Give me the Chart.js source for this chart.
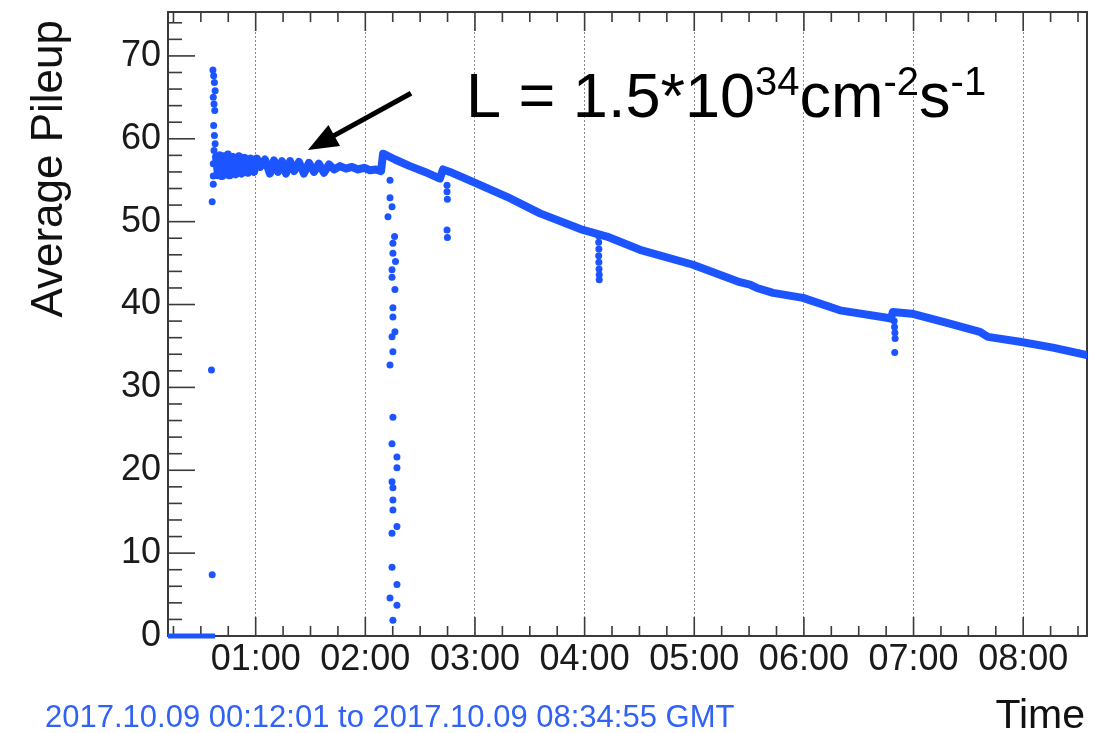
<!DOCTYPE html>
<html>
<head>
<meta charset="utf-8">
<script src="https://cdn.jsdelivr.net/npm/chart.js@4.4.0/dist/chart.umd.min.js"></script>
<style>
  html, body { margin: 0; padding: 0; background: #fff; }
</style>
</head>
<body>
<canvas id="pileup" width="1105" height="733"></canvas>
<script>
// Times are minutes after 00:00 GMT on 2017.10.09
const rangeStart = 12 + 1 / 60;      // 00:12:01
const rangeEnd = 8 * 60 + 34 + 55 / 60; // 08:34:55

// Beam not yet colliding
const zeroTimes = [12.0, 37.8];
const zeroValues = [0, 0];

// Main pileup band
const trendTimes = [38.3, 39.4, 40.5, 41.6, 42.7, 43.7, 44.8, 45.9, 47.6, 49.2, 50.9, 52.5, 54.1, 55.8, 57.4, 59.1, 60.7, 62.4,
    65.1, 67.8, 70.0, 72.2, 74.4, 76.6, 78.8, 81.0, 83.7, 86.4, 89.2, 91.9, 94.6, 97.4, 100.1, 102.9, 106.1, 109.4, 112.7,
    116.0, 119.3, 122.5, 125.8, 128.6, 129.7, 136.2, 144.4, 152.6, 160.8, 162.5, 166.3, 178.9, 197.5, 215.6, 239.1, 252.2,
    270.3, 299.3, 325.0, 330.5, 334.3, 343.1, 359.5, 379.7, 405.4, 407.6, 408.7, 419.1, 438.3, 456.3, 460.7, 478.2, 496.3, 514.9];
const trendValues = [57.8, 55.6, 58.0, 55.5, 57.9, 55.7, 58.1, 55.6, 57.8, 55.7, 57.9, 55.8, 57.7, 55.9, 57.6, 56.0, 57.6, 56.6,
    57.5, 55.8, 57.4, 56.0, 57.3, 55.8, 57.3, 56.1, 57.2, 55.8, 57.1, 56.0, 57.0, 55.9, 56.9, 56.3, 56.7, 56.4, 56.6,
    56.3, 56.5, 56.2, 56.3, 56.1, 58.2, 57.5, 56.7, 56.0, 55.2, 56.3, 56.0, 54.8, 53.0, 51.0, 49.0, 48.2,
    46.6, 44.8, 42.7, 42.4, 42.0, 41.4, 40.8, 39.3, 38.4, 38.3, 39.1, 38.9, 37.8, 36.7, 36.1, 35.5, 34.8, 33.9];

// Spike when collisions start
const spikeTimes = [36.6, 37.0, 37.4, 37.8, 36.8, 37.2, 37.6, 37.0, 37.4, 37.8, 37.2, 36.8, 36.8, 36.8, 36.2, 35.8, 36.2];
const spikeValues = [68.3, 67.6, 66.8, 65.8, 65.0, 64.2, 63.4, 61.6, 60.4, 59.4, 58.6, 57.0, 55.5, 54.5, 52.4, 32.1, 7.4];

// Dips (02:13, 02:44, 04:07, 06:49)
const dipTimes = [133.5, 133.5, 134.6, 132.4, 136.0, 135.1, 135.1, 136.5, 134.6, 134.6, 136.2, 135.1, 135.1, 136.2, 134.6, 135.1,
    133.5, 135.1, 134.6, 137.3, 137.3, 134.6, 135.1, 135.1, 135.1, 137.3, 134.6, 134.6, 137.3, 133.5, 137.3, 135.1,
    164.7, 164.7, 164.9, 164.7, 164.9,
    247.6, 247.7, 247.8, 247.7, 247.8, 247.9, 248.0, 248.0,
    409.4, 409.6, 409.8, 409.9, 409.7];
const dipValues = [55.0, 52.9, 51.8, 50.6, 48.2, 47.4, 46.2, 45.2, 44.2, 43.3, 41.8, 39.6, 38.5, 36.7, 36.1, 34.3,
    32.7, 26.4, 23.2, 21.6, 20.3, 18.6, 17.9, 16.4, 15.2, 13.2, 12.4, 8.3, 6.2, 4.6, 3.7, 1.9,
    54.4, 53.6, 52.7, 49.0, 48.1,
    48.3, 47.5, 46.7, 45.9, 45.1, 44.3, 43.6, 43.0,
    38.0, 37.3, 36.6, 35.9, 34.2];

// Axis ticks
const xTickLabels = ["01:00", "02:00", "03:00", "04:00", "05:00", "06:00", "07:00", "08:00"];
const yTickLabels = [0, 10, 20, 30, 40, 50, 60, 70];
const yMax = 75.3;

const blue = "#1c55ff";
const xy = (ts, vs) => ts.map((t, i) => ({ x: t, y: vs[i] }));

Chart.defaults.font.family = "'Liberation Sans', Arial, sans-serif";
Chart.defaults.color = "#1a1a1a";

function line(ctx, x1, y1, x2, y2) {
    ctx.beginPath();
    ctx.moveTo(x1, y1);
    ctx.lineTo(x2, y2);
    ctx.stroke();
}

// ROOT style frame with inward ticks
const rootFrame = {
    id: "rootFrame",
    beforeDatasetsDraw(chart) {
        const { ctx, chartArea: a, scales: { x, y } } = chart;
        ctx.save();
        ctx.strokeStyle = "#3a3a3a";
        ctx.lineWidth = 1.6;
        x.ticks.forEach(t => {
            const px = x.getPixelForValue(t.value);
            const len = t.value % 60 === 0 ? 19 : 10;
            line(ctx, px, a.bottom, px, a.bottom - len);
            line(ctx, px, a.top, px, a.top + len);
        });
        y.ticks.forEach(t => {
            const py = y.getPixelForValue(t.value);
            const len = t.value % 10 === 0 ? 27 : 14;
            line(ctx, a.left, py, a.left + len, py);
        });
        ctx.lineWidth = 2;
        ctx.strokeRect(a.left, a.top, a.right - a.left, a.bottom - a.top);
        ctx.restore();
    },
    afterDraw(chart) {
        const { ctx, scales: { x, y } } = chart;
        ctx.save();
        ctx.fillStyle = "#111";
        ctx.textBaseline = "alphabetic";

        // axis titles
        ctx.font = "44px 'Liberation Sans', Arial";
        ctx.save();
        ctx.translate(62, 20);
        ctx.rotate(-Math.PI / 2);
        ctx.textAlign = "right";
        ctx.fillText("Average Pileup", 0, 0);
        ctx.restore();

        ctx.font = "41px 'Liberation Sans', Arial";
        ctx.textAlign = "right";
        ctx.fillText("Time", 1085, 728);

        ctx.font = "31px 'Liberation Sans', Arial";
        ctx.textAlign = "left";
        ctx.fillStyle = "#2f62f5";
        ctx.fillText("2017.10.09 00:12:01 to 2017.10.09 08:34:55 GMT", 45, 727);

        // luminosity label
        ctx.fillStyle = "#000";
        let tx = x.getPixelForValue(175.1);
        const base = y.getPixelForValue(62.6);
        const parts = [["L = 1.5*10", false], ["34", true], ["cm", false], ["-2", true], ["s", false], ["-1", true]];
        parts.forEach(([txt, sup]) => {
            ctx.font = sup ? "40px 'Liberation Sans', Arial" : "63px 'Liberation Sans', Arial";
            ctx.fillText(txt, tx, sup ? base - 22 : base);
            tx += ctx.measureText(txt).width;
        });

        // arrow
        const x1 = x.getPixelForValue(145.0), y1 = y.getPixelForValue(65.5);
        const x2 = x.getPixelForValue(88.6), y2 = y.getPixelForValue(58.65);
        const dx = x2 - x1, dy = y2 - y1, d = Math.hypot(dx, dy);
        const ux = dx / d, uy = dy / d;
        const hl = 30, hw = 12;
        ctx.strokeStyle = "#000";
        ctx.lineWidth = 5;
        line(ctx, x1, y1, x2 - ux * hl * 0.8, y2 - uy * hl * 0.8);
        ctx.beginPath();
        ctx.moveTo(x2, y2);
        ctx.lineTo(x2 - ux * hl - uy * hw, y2 - uy * hl + ux * hw);
        ctx.lineTo(x2 - ux * hl + uy * hw, y2 - uy * hl - ux * hw);
        ctx.closePath();
        ctx.fill();
        ctx.restore();
    }
};

new Chart(document.getElementById("pileup"), {
    type: "scatter",
    data: {
        datasets: [
            { data: xy(zeroTimes, zeroValues), showLine: true, borderColor: blue, borderWidth: 5, pointRadius: 0, clip: false },
            { data: xy(trendTimes, trendValues), showLine: true, borderColor: blue, borderWidth: 8, pointRadius: 0,
              borderJoinStyle: "round", borderCapStyle: "round" },
            { data: xy(spikeTimes, spikeValues), pointRadius: 3.5, backgroundColor: blue, borderWidth: 0 },
            { data: xy(dipTimes, dipValues), pointRadius: 3.5, backgroundColor: blue, borderWidth: 0 }
        ]
    },
    options: {
        responsive: false,
        animation: false,
        events: [],
        layout: { padding: { left: 0, top: 12, right: 18, bottom: 0 } },
        plugins: { legend: { display: false }, tooltip: { enabled: false } },
        scales: {
            x: {
                type: "linear",
                min: rangeStart,
                max: rangeEnd,
                afterBuildTicks: s => {
                    const ticks = [];
                    for (let m = 15; m < rangeEnd; m += 15) ticks.push({ value: m });
                    s.ticks = ticks;
                },
                afterFit: s => {
                    s.height = 97;
                    s.paddingLeft = 0;
                    s.paddingRight = 0;
                },
                ticks: {
                    autoSkip: false,
                    maxRotation: 0,
                    padding: 2,
                    font: { size: 36 },
                    callback: v => v % 60 === 0 ? xTickLabels[v / 60 - 1] : ""
                },
                grid: {
                    drawTicks: false,
                    lineWidth: 1,
                    color: c => c.tick && c.tick.value % 60 === 0 ? "#8c8c8c" : "rgba(0,0,0,0)"
                },
                border: { display: false, dash: [2, 2] }
            },
            y: {
                min: 0,
                max: yMax,
                afterBuildTicks: s => {
                    const ticks = [];
                    for (let v = 0; v < yMax; v += 2) ticks.push({ value: v });
                    s.ticks = ticks;
                },
                afterFit: s => {
                    s.width = 168;
                    s.paddingTop = 0;
                    s.paddingBottom = 0;
                },
                ticks: {
                    autoSkip: false,
                    padding: 7,
                    font: { size: 36 },
                    callback: v => yTickLabels.includes(v) ? String(v) : ""
                },
                grid: { display: false, drawTicks: false },
                border: { display: false }
            }
        }
    },
    plugins: [rootFrame]
});
</script>
</body>
</html>
